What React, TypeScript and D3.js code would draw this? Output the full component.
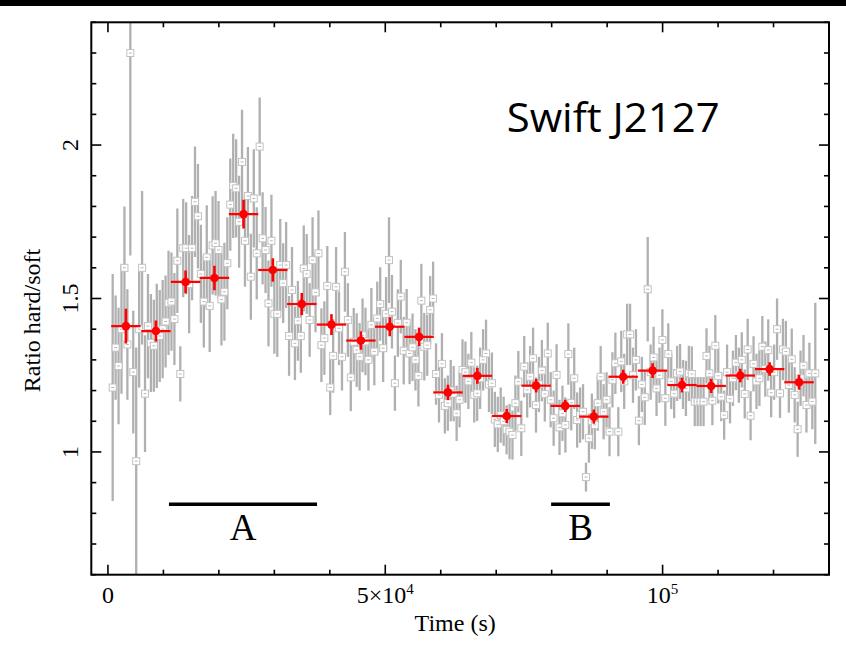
import React from "react";
import * as d3 from "d3";

// ---------- data ----------
// grey: fine time bins (start time, bin step), hardness ratio and 1-sigma error
const GREY_T0 = 855;
const GREY_DT = 530;
const greyValues = [
  1.21, 1.34, 1.28, 1.40, 1.60, 1.35, 2.30, 1.26, 0.97, 1.40,
  1.60, 1.19, 1.41, 1.355, 1.346, 1.378, 1.378, 1.40, 1.425, 1.486,
  1.49, 1.433, 1.623, 1.254, 1.664, 1.664, 1.547, 1.664, 1.815, 1.768,
  1.58, 1.49, 1.634, 1.476, 1.673, 1.68, 1.658, 1.497, 1.522, 1.615,
  1.806, 1.867, 1.859, 1.75, 1.945, 1.688, 1.834, 1.571, 1.826, 1.647,
  1.995, 1.696, 1.658, 1.484, 1.688, 1.45, 1.45, 1.609, 1.55, 1.609,
  1.378, 1.528, 1.354, 1.427, 1.378, 1.598, 1.58, 1.43, 1.625, 1.52,
  1.647, 1.348, 1.371, 1.541, 1.21, 1.313, 1.538, 1.403, 1.31, 1.587,
  1.43, 1.243, 1.359, 1.332, 1.31, 1.38, 1.36, 1.30, 1.414, 1.327,
  1.435, 1.482, 1.338, 1.45, 1.625, 1.457, 1.224, 1.42, 1.506, 1.33,
  1.421, 1.321, 1.341, 1.30, 1.248, 1.493, 1.343, 1.348, 1.463, 1.50,
  1.254, 1.186, 1.287, 1.15, 1.159, 1.20, 1.19, 1.126, 1.17, 1.267,
  1.26, 1.23, 1.291, 1.186, 1.191, 1.24, 1.30, 1.321, 1.22, 1.224,
  1.106, 1.09, 1.12, 1.10, 1.072, 1.066, 1.055, 1.159, 1.229, 1.077,
  1.278, 1.202, 1.245, 1.305, 1.153, 1.22, 1.265, 1.189, 1.321, 1.17,
  1.11, 1.251, 1.08, 1.126, 1.088, 1.319, 1.16, 1.24, 1.104, 1.12,
  1.131, 0.918, 1.045, 1.10, 1.088, 1.159, 1.245, 1.131, 1.17, 1.066,
  1.235, 1.289, 1.066, 1.295, 1.23, 1.383, 1.383, 1.25, 1.30, 1.102,
  1.22, 1.178, 1.53, 1.26, 1.308, 1.207, 1.25, 1.365, 1.175, 1.319,
  1.23, 1.19, 1.256, 1.262, 1.22, 1.207, 1.256, 1.254, 1.164, 1.164,
  1.164, 1.164, 1.313, 1.256, 1.167, 1.346, 1.248, 1.18, 1.12, 1.26,
  1.173, 1.24, 1.291, 1.25, 1.30, 1.189, 1.334, 1.118, 1.287, 1.23,
  1.24, 1.343, 1.27, 1.332, 1.193, 1.26, 1.40, 1.191, 1.334, 1.327,
  1.218, 1.302, 1.186, 1.074, 1.24, 1.281, 1.153, 1.256, 1.164, 1.256,
];
const greyErrors = [
  0.37, 0.17, 0.19, 0.21, 0.20, 0.18, 0.66, 0.20, 0.37, 0.19,
  0.25, 0.19, 0.17, 0.16, 0.15, 0.17, 0.15, 0.16, 0.15, 0.17,
  0.16, 0.15, 0.17, 0.09, 0.16, 0.15, 0.16, 0.17, 0.18, 0.17,
  0.16, 0.15, 0.17, 0.15, 0.16, 0.17, 0.16, 0.15, 0.16, 0.15,
  0.15, 0.17, 0.16, 0.15, 0.17, 0.15, 0.16, 0.14, 0.16, 0.15,
  0.16, 0.15, 0.14, 0.14, 0.15, 0.13, 0.14, 0.15, 0.13, 0.14,
  0.13, 0.14, 0.12, 0.13, 0.12, 0.14, 0.13, 0.12, 0.14, 0.13,
  0.14, 0.12, 0.12, 0.13, 0.09, 0.12, 0.13, 0.12, 0.11, 0.13,
  0.12, 0.11, 0.11, 0.12, 0.11, 0.12, 0.11, 0.10, 0.12, 0.11,
  0.12, 0.12, 0.11, 0.12, 0.14, 0.12, 0.09, 0.11, 0.12, 0.11,
  0.11, 0.10, 0.11, 0.10, 0.10, 0.12, 0.11, 0.10, 0.11, 0.12,
  0.10, 0.09, 0.10, 0.09, 0.09, 0.10, 0.09, 0.09, 0.09, 0.10,
  0.10, 0.09, 0.10, 0.09, 0.09, 0.10, 0.10, 0.11, 0.09, 0.10,
  0.09, 0.09, 0.09, 0.08, 0.08, 0.09, 0.08, 0.09, 0.10, 0.09,
  0.10, 0.09, 0.10, 0.10, 0.09, 0.09, 0.10, 0.09, 0.10, 0.09,
  0.09, 0.10, 0.09, 0.09, 0.09, 0.10, 0.09, 0.10, 0.09, 0.09,
  0.09, 0.047, 0.08, 0.09, 0.08, 0.09, 0.10, 0.09, 0.09, 0.08,
  0.09, 0.10, 0.08, 0.10, 0.09, 0.10, 0.10, 0.09, 0.10, 0.08,
  0.09, 0.09, 0.17, 0.09, 0.10, 0.09, 0.09, 0.10, 0.09, 0.10,
  0.09, 0.08, 0.09, 0.09, 0.08, 0.09, 0.09, 0.09, 0.08, 0.08,
  0.08, 0.08, 0.09, 0.09, 0.08, 0.10, 0.09, 0.08, 0.08, 0.09,
  0.08, 0.09, 0.09, 0.09, 0.09, 0.08, 0.10, 0.08, 0.09, 0.09,
  0.09, 0.10, 0.09, 0.10, 0.08, 0.09, 0.10, 0.08, 0.10, 0.10,
  0.09, 0.10, 0.09, 0.09, 0.09, 0.10, 0.09, 0.10, 0.09, 0.23,
];

// red: coarse bins
const RED_HALF = 2650;
const redTimes = [
  3240, 8650, 14000, 19200, 24450, 29730, 34950, 40300, 45600, 50800, 56100, 61300,
  66600, 71900, 77200, 82450, 87600, 92900, 98200, 103500, 108760, 114000, 119300, 124600,
];
const redValues = [
  1.41, 1.394, 1.554, 1.567, 1.775, 1.593, 1.482, 1.415, 1.363, 1.408, 1.375, 1.194,
  1.248, 1.117, 1.216, 1.15, 1.115, 1.245, 1.265, 1.218, 1.215, 1.249, 1.27, 1.227,
];
const redErrors = [
  0.057, 0.034, 0.037, 0.04, 0.047, 0.038, 0.036, 0.034, 0.03, 0.031, 0.03, 0.025,
  0.026, 0.023, 0.022, 0.02, 0.023, 0.023, 0.024, 0.024, 0.023, 0.022, 0.022, 0.024,
];

// intervals A and B
const intervalLabels = ["A", "B"];
const intervalStarts = [11000, 79900];
const intervalEnds = [37700, 90500];

const xMajorTicks = [0, 50000, 100000];
const xMinorTicks = d3.range(0, 130001, 10000);
const yMajorTicks = [1, 1.5, 2];
const yMinorTicks = d3.range(6, 25).map((d) => d / 10);
const yTickLabels = ["1", "1.5", "2"];

const X_DOMAIN = [-3000, 130000];
const Y_DOMAIN = [0.6, 2.4];

const W = 846;
const H = 646;
const L = 91.3;
const R = 829;
const T = 22.3;
const B = 574.7;

const SERIF = "'Liberation Serif', 'Times New Roman', serif";

export default function App() {
  const x = d3.scaleLinear().domain(X_DOMAIN).range([L, R]);
  const y = d3.scaleLinear().domain(Y_DOMAIN).range([B, T]);

  const grey = greyValues.map((v, i) => ({
    t: GREY_T0 + i * GREY_DT,
    v,
    e: greyErrors[i],
  }));
  const red = redValues.map((v, i) => ({ t: redTimes[i], v, e: redErrors[i] }));

  const sq = 7;

  return (
    <div style={{ position: "absolute", left: 0, top: 0, width: W, height: H, background: "#fff" }}>
      <svg width={W} height={H} viewBox={`0 0 ${W} ${H}`} style={{ display: "block" }}>
        <rect x={0} y={0} width={W} height={H} fill="#fff" />
        <rect x={0} y={0} width={W} height={6} fill="#000" />
        <defs>
          <clipPath id="plotclip">
            <rect x={L} y={T} width={R - L} height={B - T} />
          </clipPath>
        </defs>

        <g clipPath="url(#plotclip)">
          {/* grey error bars */}
          {grey.map((d, i) => (
            <line
              key={"gb" + i}
              x1={x(d.t)}
              x2={x(d.t)}
              y1={y(d.v - d.e)}
              y2={y(d.v + d.e)}
              stroke="#b0b0b0"
              strokeWidth={2.3}
            />
          ))}
          {grey.map((d, i) => (
            <g key={"gm" + i}>
              <rect
                x={x(d.t) - sq / 2}
                y={y(d.v) - sq / 2}
                width={sq}
                height={sq}
                fill="#fff"
                stroke="#c2c2c2"
                strokeWidth={1}
              />
              <line
                x1={x(d.t - GREY_DT / 2)}
                x2={x(d.t + GREY_DT / 2)}
                y1={y(d.v)}
                y2={y(d.v)}
                stroke="#b8b8b8"
                strokeWidth={1}
              />
            </g>
          ))}
          {/* red binned points */}
          {red.map((d, i) => (
            <g key={"r" + i}>
              <line
                x1={x(d.t - RED_HALF)}
                x2={x(d.t + RED_HALF)}
                y1={y(d.v)}
                y2={y(d.v)}
                stroke="#ff0000"
                strokeWidth={2.2}
              />
              <line
                x1={x(d.t)}
                x2={x(d.t)}
                y1={y(d.v - d.e)}
                y2={y(d.v + d.e)}
                stroke="#ff0000"
                strokeWidth={2.6}
              />
              <circle cx={x(d.t)} cy={y(d.v)} r={4.3} fill="#ff0000" />
            </g>
          ))}
        </g>

        {/* intervals */}
        {intervalLabels.map((lab, i) => (
          <g key={"iv" + i}>
            <line
              x1={x(intervalStarts[i])}
              x2={x(intervalEnds[i])}
              y1={504.3}
              y2={504.3}
              stroke="#000"
              strokeWidth={3.5}
            />
            <text
              x={x((intervalStarts[i] + intervalEnds[i]) / 2)}
              y={540}
              textAnchor="middle"
              fontFamily={SERIF}
              fontSize={37}
              fill="#000"
            >
              {lab}
            </text>
          </g>
        ))}

        {/* frame */}
        <rect x={L} y={T} width={R - L} height={B - T} fill="none" stroke="#000" strokeWidth={2} />

        {/* x ticks */}
        {xMinorTicks.map((t) => {
          const major = xMajorTicks.includes(t);
          const len = major ? 10 : 5;
          return (
            <g key={"xt" + t}>
              <line x1={x(t)} x2={x(t)} y1={B} y2={B - len} stroke="#000" strokeWidth={1.6} />
              <line x1={x(t)} x2={x(t)} y1={T} y2={T + len} stroke="#000" strokeWidth={1.6} />
            </g>
          );
        })}
        {/* y ticks */}
        {yMinorTicks.map((v) => {
          const major = yMajorTicks.some((m) => Math.abs(m - v) < 1e-9);
          const len = major ? 10 : 5;
          return (
            <g key={"yt" + v}>
              <line x1={L} x2={L + len} y1={y(v)} y2={y(v)} stroke="#000" strokeWidth={1.6} />
              <line x1={R} x2={R - len} y1={y(v)} y2={y(v)} stroke="#000" strokeWidth={1.6} />
            </g>
          );
        })}

        {/* x tick labels */}
        <text x={x(0)} y={603} textAnchor="middle" fontFamily={SERIF} fontSize={24} fill="#000">
          0
        </text>
        <text x={x(50000)} y={603} textAnchor="middle" fontFamily={SERIF} fontSize={24} fill="#000">
          5×10
          <tspan dy={-9} fontSize={15}>4</tspan>
        </text>
        <text x={x(100000)} y={603} textAnchor="middle" fontFamily={SERIF} fontSize={24} fill="#000">
          10
          <tspan dy={-9} fontSize={15}>5</tspan>
        </text>

        {/* y tick labels (rotated) */}
        {yMajorTicks.map((v, i) => (
          <text
            key={"yl" + v}
            transform={`translate(78,${y(v)}) rotate(-90)`}
            textAnchor="middle"
            fontFamily={SERIF}
            fontSize={24}
            fill="#000"
          >
            {yTickLabels[i]}
          </text>
        ))}

        {/* axis titles */}
        <text x={(L + R) / 2 - 5} y={631} textAnchor="middle" fontFamily={SERIF} fontSize={24} fill="#000">
          Time (s)
        </text>
        <text
          transform={`translate(40,${(T + B) / 2 + 22}) rotate(-90)`}
          textAnchor="middle"
          fontFamily={SERIF}
          fontSize={24}
          fill="#000"
        >
          Ratio hard/soft
        </text>

        {/* title */}
        <text
          x={506.7}
          y={131.7}
          fontFamily="'Open Sans', 'Noto Sans', sans-serif"
          fontSize={41}
          textLength={213}
          lengthAdjust="spacingAndGlyphs"
          fill="#000"
        >
          Swift J2127
        </text>
      </svg>
    </div>
  );
}
